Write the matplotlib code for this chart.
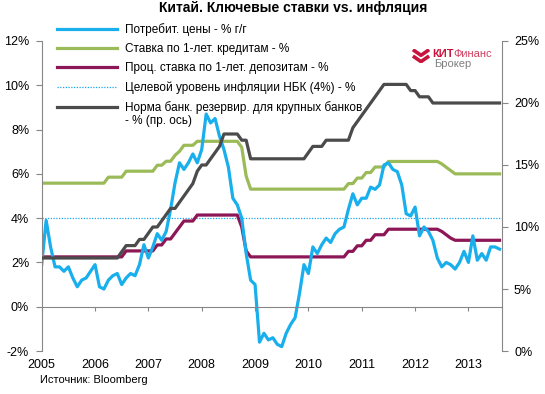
import numpy as np
import matplotlib
matplotlib.use("Agg")
import matplotlib.pyplot as plt

plt.rcParams['font.family'] = ['Liberation Sans', 'DejaVu Sans']

# ---------------- data (monthly, Jan 2005 - Aug 2013) ----------------
start_year = 2005
cpi = [1.9, 3.9, 2.7, 1.8, 1.8, 1.6, 1.8, 1.3, 0.9, 1.2, 1.3, 1.6,
       1.9, 0.9, 0.8, 1.2, 1.4, 1.5, 1.0, 1.3, 1.5, 1.4, 1.9, 2.8,
       2.2, 2.7, 3.3, 3.0, 3.4, 4.4, 5.6, 6.5, 6.2, 6.5, 6.9, 6.5,
       7.1, 8.7, 8.3, 8.5, 7.7, 7.1, 6.3, 4.9, 4.6, 4.0, 2.4, 1.2,
       1.0, -1.6, -1.2, -1.5, -1.4, -1.7, -1.8, -1.2, -0.8, -0.5, 0.6, 1.9,
       1.5, 2.7, 2.4, 2.8, 3.1, 2.9, 3.3, 3.5, 3.6, 4.4, 5.1, 4.6,
       4.9, 4.9, 5.4, 5.3, 5.5, 6.4, 6.5, 6.2, 6.1, 5.5, 4.2, 4.1,
       4.5, 3.2, 3.6, 3.4, 3.0, 2.2, 1.8, 2.0, 1.9, 1.7, 2.0, 2.5,
       2.0, 3.2, 2.1, 2.4, 2.1, 2.7, 2.7, 2.6]

loan = ([5.58] * 12 +
        [5.58, 5.58, 5.58, 5.85, 5.85, 5.85, 5.85, 6.12, 6.12, 6.12, 6.12, 6.12] +
        [6.12, 6.12, 6.39, 6.39, 6.57, 6.57, 6.84, 7.02, 7.29, 7.29, 7.29, 7.47] +
        [7.47] * 9 + [7.2, 5.9, 5.31] +
        [5.31] * 12 +
        [5.31] * 9 + [5.56, 5.56, 5.81] +
        [5.81, 6.06, 6.06, 6.31, 6.31, 6.31] + [6.56] * 6 +
        [6.56] * 6 + [6.45, 6.3, 6.15, 6.0, 6.0, 6.0] +
        [6.0] * 8)

deposit = ([2.25] * 12 +
           [2.25] * 7 + [2.52] * 5 +
           [2.52, 2.52, 2.79, 2.79, 3.06, 3.06, 3.33, 3.60, 3.87, 3.87, 3.87, 4.14] +
           [4.14] * 9 + [3.60, 2.52, 2.25] +
           [2.25] * 12 +
           [2.25] * 9 + [2.50, 2.50, 2.75] +
           [2.75, 3.00, 3.00, 3.25, 3.25, 3.25] + [3.50] * 6 +
           [3.50] * 6 + [3.40, 3.25, 3.10, 3.00, 3.00, 3.00] +
           [3.00] * 8)

rrr = ([7.5] * 12 +
       [7.5] * 6 + [8.0, 8.5, 8.5, 8.5, 9.0, 9.0] +
       [9.5, 10.0, 10.0, 10.5, 11.0, 11.5, 11.5, 12.0, 12.5, 13.0, 13.5, 14.5] +
       [15.0, 15.0, 15.5, 16.0, 16.5, 17.5, 17.5, 17.5, 17.5, 17.0, 17.0, 15.5] +
       [15.5] * 12 +
       [16.0, 16.5, 16.5, 16.5] + [17.0] * 6 + [18.0, 18.5] +
       [19.0, 19.5, 20.0, 20.5, 21.0] + [21.5] * 6 + [21.0] +
       [21.0, 20.5, 20.5, 20.5] + [20.0] * 8 +
       [20.0] * 8)

target = 4.0
years = list(range(2005, 2014))
left_ticks = [-2, 0, 2, 4, 6, 8, 10, 12]
right_ticks = [0, 5, 10, 15, 20, 25]

labels = ["Потребит. цены - % г/г",
          "Ставка по 1-лет. кредитам - %",
          "Проц. ставка по 1-лет. депозитам - %",
          "Целевой уровень инфляции НБК (4%) - %",
          "Норма банк. резервир. для крупных банков"]
label_cont = "- % (пр. ось)"
title = "Китай. Ключевые ставки vs. инфляция"
source = "Источник: Bloomberg"

c_cpi = '#19AFEC'
c_loan = '#9BBB59'
c_dep = '#8C1656'
c_rrr = '#4B4B4B'
c_axis = '#868686'

# ---------------- figure ----------------
W, H = 545, 394
fig = plt.figure(figsize=(W / 100, H / 100), dpi=100)
ax = fig.add_axes([41.7 / W, 43 / H, (501.5 - 41.7) / W, 310 / H])
ax.set_facecolor('none')

t = start_year + np.arange(len(cpi)) / 12.0

l_tgt = ax.axhline(target, color='#1AA7E8', lw=0.9, ls=(0, (1, 1.2)))
l_loan, = ax.plot(t, loan, color=c_loan, lw=2.3, solid_joinstyle='round')
l_dep, = ax.plot(t, deposit, color=c_dep, lw=2.3, solid_joinstyle='round')
l_cpi, = ax.plot(t, cpi, color=c_cpi, lw=2.3, solid_joinstyle='round')

ax.set_xlim(2005, 2013.62)
ax.set_ylim(-2, 12)
ax.set_yticks(left_ticks)
ax.set_yticklabels([f"{v}%" for v in left_ticks])

for s in ['top', 'right']:
    ax.spines[s].set_visible(False)
ax.spines['left'].set_color(c_axis)
ax.spines['bottom'].set_color(c_axis)
ax.spines['bottom'].set_position(('data', 0))
ax.set_xticks(years)
ax.tick_params(axis='x', direction='out', length=3, color=c_axis, labelbottom=False)
ax.tick_params(axis='y', direction='out', length=4, color=c_axis, pad=5,
               labelsize=9, labelcolor='black')

sec = ax.secondary_xaxis(0.0)
sec.set_xticks(years)
sec.set_xticklabels([str(y) for y in years])
sec.tick_params(length=0, pad=6, labelsize=9, labelcolor='black')
sec.spines['bottom'].set_visible(False)

ax2 = ax.twinx()
l_rrr, = ax2.plot(t, rrr, color=c_rrr, lw=2.3, solid_joinstyle='round')
ax2.set_ylim(0, 25)
ax2.set_yticks(right_ticks)
ax2.set_yticklabels([f"{v}%" for v in right_ticks])
for s in ['top', 'left', 'bottom']:
    ax2.spines[s].set_visible(False)
ax2.spines['right'].set_color(c_axis)
ax2.tick_params(axis='y', direction='out', length=4, color=c_axis, pad=5,
                labelsize=9, labelcolor='black')

leg_fs = 8.5
leg = ax2.legend([l_cpi, l_loan, l_dep, l_tgt, l_rrr], labels,
                 loc='upper left', bbox_to_anchor=(57 / W, 1 - 23 / H),
                 bbox_transform=fig.transFigure, frameon=False,
                 fontsize=leg_fs, handlelength=5.1, handletextpad=0.7,
                 labelspacing=0.6, borderpad=0, borderaxespad=0)

fig.text(293 / W, 1 - 8 / H, title, ha='center', va='center',
         fontsize=10, fontweight='bold')
fig.text(40 / W, 1 - 380 / H, source, ha='left', va='center', fontsize=8)

# logo
lax = fig.add_axes([412 / W, 1 - 63 / H, 18 / W, 14 / H])
lax.axis('off')
lax.set_xlim(0, 1)
lax.set_ylim(0, 1)
lax.plot([0.05, 0.5, 0.95], [0.95, 0.55, 0.95], color='#C8143C', lw=2.6,
         solid_capstyle='butt')
lax.plot([0.05, 0.5, 0.95], [0.5, 0.1, 0.5], color='#C8143C', lw=2.6,
         solid_capstyle='butt')
kit = fig.text(432 / W, 1 - 54 / H, "КИТ", color='#C8143C', fontsize=8,
               fontweight='bold', ha='left', va='center')

fig.canvas.draw()
r = fig.canvas.get_renderer()
kb = kit.get_window_extent(r)
fig.text(kb.x1 / W, 1 - 54 / H, "Финанс", color='#D04060', fontsize=8,
         ha='left', va='center')
fig.text(434 / W, 1 - 64 / H, "Брокер", color='#7F7F7F', fontsize=8,
         ha='left', va='center')

# second line of the last legend label, placed under its first line
lt = leg.get_texts()[4]
tb = lt.get_window_extent(r)
fig.text(tb.x0 / W, (tb.y0 - 1) / H, label_cont, ha='left', va='top',
         fontsize=leg_fs)

fig.savefig("out.png", dpi=100)
